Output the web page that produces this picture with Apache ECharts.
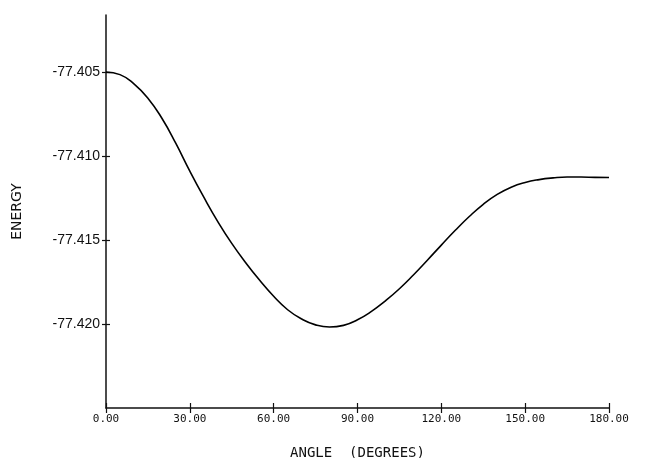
<!DOCTYPE html>
<html>
<head>
<meta charset="utf-8">
<script src="https://cdn.jsdelivr.net/npm/echarts@6/dist/echarts.min.js"></script>
<style>
  html, body { margin: 0; padding: 0; background: #fff; }
  #chart { width: 645px; height: 458px; }
</style>
</head>
<body>
<div id="chart"></div>
<script>
// angle in degrees, energy
const angles = [0, 5, 10, 15, 20, 25, 30, 35, 40, 45, 50, 55, 60, 65, 70, 75, 80, 85, 90,
  95, 100, 105, 110, 115, 120, 125, 130, 135, 140, 145, 150, 155, 160, 165, 170, 175, 180];
const energy = [-77.40500, -77.40515, -77.40570, -77.40655, -77.40775, -77.40925, -77.41090,
  -77.41245, -77.41390, -77.41520, -77.41635, -77.41740, -77.41835, -77.41915, -77.41970,
  -77.42005, -77.42018, -77.42008, -77.41975, -77.41925, -77.41862, -77.41790, -77.41708,
  -77.41620, -77.41530, -77.41442, -77.41360, -77.41287, -77.41228, -77.41185, -77.41157,
  -77.41140, -77.41130, -77.41125, -77.41125, -77.41127, -77.41128];
const yTicks = [-77.405, -77.410, -77.415, -77.420];

const points = angles.map((a, i) => [a, energy[i]]);

const chart = echarts.init(document.getElementById('chart'), null, { renderer: 'canvas' });

const axisColor = '#111';
const tickFont = 'DejaVu Sans Mono';

const xBase = {
  type: 'value',
  min: 0,
  max: 180,
  interval: 30,
  splitLine: { show: false }
};
const yBase = {
  type: 'value',
  min: -77.425,
  max: -77.4016,
  splitLine: { show: false }
};

chart.setOption({
  animation: false,
  grid: { left: 106, right: 36, top: 15, bottom: 50, outerBoundsMode: 'none', containLabel: false },
  xAxis: [
    Object.assign({}, xBase, {
      name: 'ANGLE  (DEGREES)',
      nameLocation: 'middle',
      nameGap: 38,
      nameTextStyle: { fontFamily: tickFont, fontSize: 14, color: axisColor },
      axisLine: { lineStyle: { color: axisColor, width: 1.5 } },
      axisTick: { length: 5, lineStyle: { color: axisColor, width: 1.2 } },
      axisLabel: {
        margin: 6,
        fontFamily: tickFont,
        fontSize: 11,
        color: axisColor,
        formatter: (v) => v.toFixed(2)
      }
    }),
    // second copy only to draw the inner half of the crossing ticks
    Object.assign({}, xBase, {
      position: 'bottom',
      axisLine: { show: false },
      axisTick: { inside: true, length: 5, lineStyle: { color: axisColor, width: 1.2 } },
      axisLabel: { show: false }
    })
  ],
  yAxis: [
    Object.assign({}, yBase, {
      name: 'ENERGY',
      nameLocation: 'middle',
      nameGap: 82,
      nameRotate: 90,
      nameTextStyle: { fontFamily: 'DejaVu Sans', fontSize: 14, color: axisColor },
      axisLine: { show: true, lineStyle: { color: axisColor, width: 1.5 } },
      axisTick: {
        show: true,
        length: 4,
        customValues: yTicks,
        lineStyle: { color: axisColor, width: 1.2 }
      },
      axisLabel: {
        margin: 6,
        fontFamily: 'Liberation Sans',
        fontSize: 14,
        color: axisColor,
        customValues: yTicks,
        formatter: (v) => v.toFixed(3)
      }
    }),
    Object.assign({}, yBase, {
      position: 'left',
      axisLine: { show: false },
      axisTick: {
        show: true,
        inside: true,
        length: 4,
        customValues: yTicks,
        lineStyle: { color: axisColor, width: 1.2 }
      },
      axisLabel: { show: false }
    })
  ],
  series: [
    {
      type: 'line',
      data: points,
      smooth: true,
      symbol: 'none',
      lineStyle: { color: '#000', width: 1.6 }
    }
  ]
});
</script>
</body>
</html>
